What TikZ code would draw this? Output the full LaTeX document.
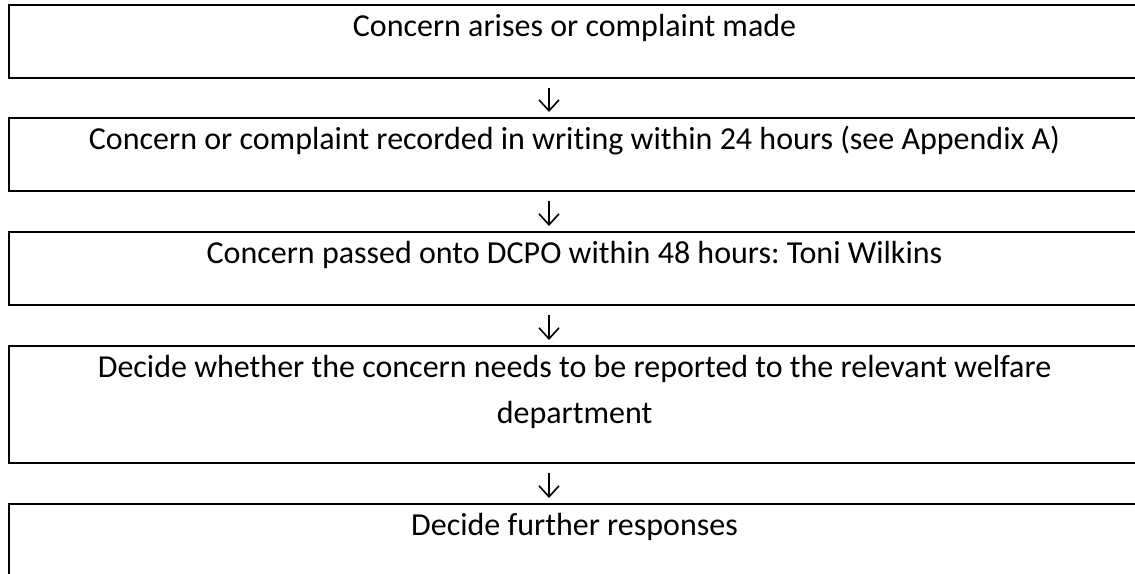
\documentclass[tikz,border=0pt]{standalone}
\usepackage{fontspec}
\setmainfont{Carlito}[Ligatures=NoCommon]
\usepackage{tikz}
\usetikzlibrary{arrows.meta, positioning}
\frenchspacing

\begin{document}
\begin{tikzpicture}[
			x=1pt, y=-1pt,
			node distance=41pt,
			% cajas de una linea con el texto arriba
			stepbox/.style={rectangle, draw, line width=2pt, inner sep=0pt, outer sep=0pt, minimum width=1131pt, text height=31pt, text depth=42pt, align=center, font=\fontsize{32}{46}\selectfont},
			twobox/.style={stepbox, text height=77pt, text depth=40pt},
			flowarrow/.style={-{Straight Barb[length=11pt, width=20pt]}, line width=1.6pt, black}
			]
			
			\useasboundingbox (0,0) rectangle (1135,573);
			\clip (0,0) rectangle (1135,573);
			\fill[white] (0,0) rectangle (1135,573);
			
			\node[stepbox, anchor=north] (raised) at (574.5,5) {Concern arises or complaint made};
			\node[stepbox, below=40pt of raised] (recorded) {Concern or complaint recorded in writing within 24 hours (see Appendix A)};
			\node[stepbox, below=of recorded] (dcpo) {Concern passed onto DCPO within 48 hours: Toni Wilkins};
			\node[twobox, below=of dcpo] (decide) {Decide whether the concern needs to be reported to the relevant welfare\\department};
			\node[stepbox, below=of decide] (further) {Decide further responses};
			
			% flechas un poco a la izquierda del centro
			\draw[flowarrow] ([xshift=-25.5pt, yshift=-10pt]raised.south) -- ([xshift=-25.5pt, yshift=6pt]recorded.north);
			\draw[flowarrow] ([xshift=-25.5pt, yshift=-10pt]recorded.south) -- ([xshift=-25.5pt, yshift=6pt]dcpo.north);
			\draw[flowarrow] ([xshift=-25.5pt, yshift=-10pt]dcpo.south) -- ([xshift=-25.5pt, yshift=6pt]decide.north);
			\draw[flowarrow] ([xshift=-25.5pt, yshift=-10pt]decide.south) -- ([xshift=-25.5pt, yshift=6pt]further.north);
			
		\end{tikzpicture}
\end{document}
